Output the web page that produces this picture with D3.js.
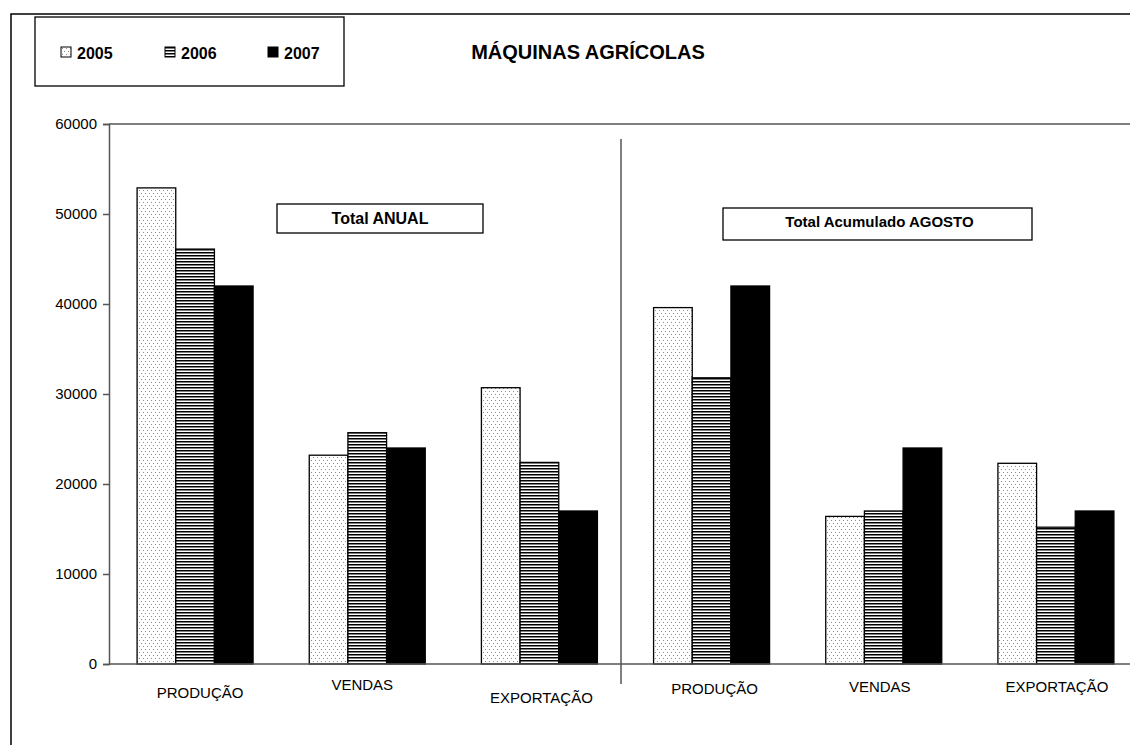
<!DOCTYPE html>
<html>
<head>
<meta charset="utf-8">
<script src="https://cdn.jsdelivr.net/npm/d3@7"></script>
<style>
  body { margin: 0; background: white; }
  text { font-family: 'Liberation Sans', Arial, sans-serif; fill: #000; }
</style>
</head>
<body>
<div id="chart"></div>
<script>
// DATA
const categories = ['PRODUÇÃO', 'VENDAS', 'EXPORTAÇÃO', 'PRODUÇÃO', 'VENDAS', 'EXPORTAÇÃO'];
const years = ['2005', '2006', '2007'];
const v2005 = [52900, 23200, 30700, 39600, 16400, 22300];
const v2006 = [46100, 25700, 22400, 31800, 17000, 15200];
const v2007 = [42000, 24000, 17000, 42000, 24000, 17000];
const yTicks = [0, 10000, 20000, 30000, 40000, 50000, 60000];
const chartTitle = 'MÁQUINAS AGRÍCOLAS';
const panelTitles = ['Total ANUAL', 'Total Acumulado AGOSTO'];

const series = [v2005, v2006, v2007];

// DIMENSIONS
width = 1130;
height = 745;

svg = d3
    .select('#chart')
    .append('svg')
    .attr('width', width)
    .attr('height', height);

// PATTERNS
defs = svg.append('defs');

dots = defs.append('pattern')
    .attr('id', 'p2005')
    .attr('patternUnits', 'userSpaceOnUse')
    .attr('width', 8)
    .attr('height', 6);
dots.append('rect').attr('width', 8).attr('height', 6).attr('fill', 'white');
[[1, 1], [5, 1], [3, 4], [7, 4]].forEach(p => {
    dots.append('rect')
        .attr('x', p[0]).attr('y', p[1])
        .attr('width', 1).attr('height', 1)
        .attr('fill', '#8c8c8c');
});

stripes = defs.append('pattern')
    .attr('id', 'p2006')
    .attr('patternUnits', 'userSpaceOnUse')
    .attr('width', 4)
    .attr('height', 3);
stripes.append('rect').attr('width', 4).attr('height', 3).attr('fill', 'white');
stripes.append('rect').attr('width', 4).attr('height', 1.5).attr('fill', 'black');

fills = ['url(#p2005)', 'url(#p2006)', '#000'];

// OUTER FRAME
svg.append('path')
    .attr('d', `M11,${height}V14H${width}`)
    .attr('fill', 'none')
    .attr('stroke', '#000')
    .attr('stroke-width', 1.5);

// SCALES
yScale = d3.scaleLinear()
    .domain([0, 60000])
    .range([664, 124]);

xScale = d3.scaleBand()
    .domain(d3.range(categories.length))
    .range([109, 1142]);

groupW = 116;
subScale = d3.scaleBand()
    .domain(years)
    .range([0, groupW]);
offset = (xScale.bandwidth() - groupW) / 2;

// PLOT AREA TOP BORDER + X AXIS LINE
svg.append('line')
    .attr('x1', 109).attr('x2', width)
    .attr('y1', yScale(60000)).attr('y2', yScale(60000))
    .attr('stroke', '#555').attr('stroke-width', 1.5);

// BARS
years.forEach((yr, i) => {
    svg.append('g')
        .selectAll('rect')
        .data(series[i])
        .enter()
        .append('rect')
        .attr('x', (d, j) => xScale(j) + offset + subScale(yr))
        .attr('y', d => yScale(d))
        .attr('width', subScale.bandwidth())
        .attr('height', d => yScale(0) - yScale(d))
        .attr('fill', fills[i])
        .attr('stroke', '#000')
        .attr('stroke-width', 1.3);
});

// Y AXIS
yAxis = svg.append('g')
    .attr('transform', 'translate(109,0)')
    .call(d3.axisLeft(yScale).tickValues(yTicks).tickFormat(d3.format('d')).tickSize(6).tickPadding(6));
yAxis.select('.domain').attr('stroke', '#555').attr('stroke-width', 1.5);
yAxis.selectAll('.tick line').attr('stroke', '#555').attr('stroke-width', 1.5);
yAxis.selectAll('text')
    .style('font-family', "'Liberation Sans', Arial, sans-serif")
    .style('font-size', '15px')
    .attr('fill', '#000');

// X AXIS
svg.append('line')
    .attr('x1', 109).attr('x2', width)
    .attr('y1', yScale(0)).attr('y2', yScale(0))
    .attr('stroke', '#555').attr('stroke-width', 1.5);

// CATEGORY LABELS (hand-placed text boxes in the original)
labelNudge = [[5, 3], [-5, -5], [2, 8], [3, -1], [-4, -3], [1, -3]];
svg.append('g')
    .selectAll('text')
    .data(categories)
    .enter()
    .append('text')
    .attr('x', (d, j) => xScale(j) + xScale.bandwidth() / 2 + labelNudge[j][0] - 12 + 12)
    .attr('y', (d, j) => 695 + labelNudge[j][1])
    .attr('text-anchor', 'middle')
    .style('font-size', '15px')
    .text(d => d);

// DIVIDER BETWEEN PANELS
svg.append('line')
    .attr('x1', 621).attr('x2', 621)
    .attr('y1', 139).attr('y2', 684)
    .attr('stroke', '#555').attr('stroke-width', 1.5);

// PANEL TITLE BOXES
panelBoxes = [
    { x: 277, y: 204, w: 206, h: 29, size: 16 },
    { x: 723, y: 208, w: 309, h: 32, size: 15 }
];
panelBoxes.forEach((b, i) => {
    svg.append('rect')
        .attr('x', b.x).attr('y', b.y)
        .attr('width', b.w).attr('height', b.h)
        .attr('fill', 'white')
        .attr('stroke', '#000')
        .attr('stroke-width', 1.3);
    svg.append('text')
        .attr('x', b.x + b.w / 2 + (i ? 2 : 0))
        .attr('y', b.y + (i ? 19 : 20))
        .attr('text-anchor', 'middle')
        .style('font-size', b.size + 'px')
        .style('font-weight', 'bold')
        .text(panelTitles[i]);
});

// TITLE
svg.append('text')
    .attr('x', 588)
    .attr('y', 59)
    .attr('text-anchor', 'middle')
    .style('font-size', '20px')
    .style('font-weight', 'bold')
    .text(chartTitle);

// LEGEND
svg.append('rect')
    .attr('x', 35).attr('y', 17)
    .attr('width', 309).attr('height', 69)
    .attr('fill', 'white')
    .attr('stroke', '#000')
    .attr('stroke-width', 1.3);

legendX = [61, 165, 268];
legend = svg.append('g')
    .selectAll('g')
    .data(years)
    .enter()
    .append('g')
    .attr('transform', (d, i) => `translate(${legendX[i]},47)`);

legend.append('rect')
    .attr('width', 10).attr('height', 10)
    .attr('fill', (d, i) => fills[i])
    .attr('stroke', '#000')
    .attr('stroke-width', 1);

legend.append('text')
    .attr('x', 16)
    .attr('y', 12)
    .style('font-size', '16px')
    .style('font-weight', 'bold')
    .text(d => d);
</script>
</body>
</html>
